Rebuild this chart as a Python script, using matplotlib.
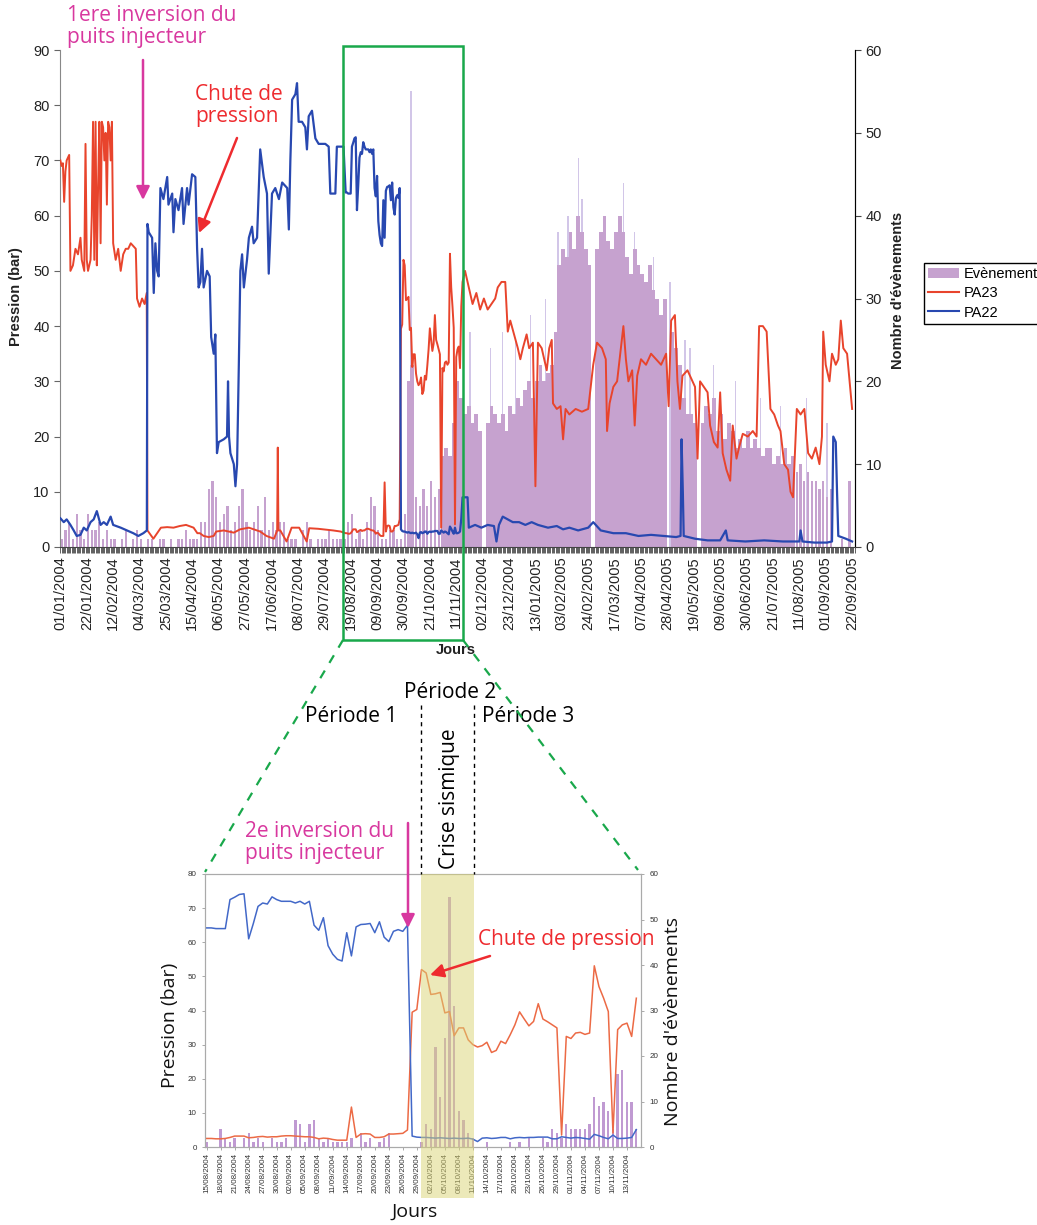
import matplotlib
matplotlib.use('Agg')
import matplotlib.pyplot as plt
import numpy as np
import pandas as pd
from matplotlib.patches import Rectangle, FancyArrowPatch, Patch
from matplotlib.lines import Line2D
from matplotlib.ticker import MultipleLocator

plt.rcParams['font.family'] = ['Liberation Sans', 'DejaVu Sans']

# ------------------------------------------------------------------ data
# --- top chart (day index from 01/01/2004)
top_start = '2004-01-01'
top_tick_step = 21
top_n_ticks = 31

pa23_early = [(0,70),(1,69),(2,69.5),(3,62.5),(4,68),(5,70),(7,71),(8,50),(10,51),(12,54),(14,53),
              (16,56),(17,52),(19,50),(20,73),(21,52),(22,50),(24,52),(25,60),(26,77),(27,52),(28,77),
              (29,51),(30,65),(31,77),(32,55),(33,77),(34,76),(35,70),(36,75),(37,62),(38,77),(39,76),
              (40,70),(41,77),(42,55),(44,52),(46,54),(48,50),(50,53),(52,54),(54,54),(56,55),(58,54.5),
              (60,54),(61,45),(63,43.5),(65,45),(67,44),(68.7,46),(69.3,3),(74,1.5),(80,3.5),(85,3.6),
              (90,3.5),(95,3.8),(100,4),(106,3.5),(109,2.5),(111,2.5),(114,2),(118,1.8),(122,2),
              (124,2.8),(130,3),(138,2.6),(143,3.2),(150,3.5),(159,2.8),(164,2),(170,1.5),(172.5,3),
              (173,18),(173.5,3),(175,3),(180,1),(184,3.5),(190,3.5),(196,1),(198,3.4),(205,3.3),
              (217,3),(223,2.8)]

pa22_early = [(0,5.2),(2.7,4.5),(5,5),(8,4),(10.6,3),(13,2),(16,2.2),(18.6,3.5),(21,3),(24,4.5),
              (26.5,5),(29,6.5),(32,4),(34.5,4.5),(37,4),(40,5.5),(42,4),(48,3.5),(53,3),(58,2.5),
              (62,2),(66,2.5),(68.8,3),(69.3,58.5),(70.3,57),(73,56),(74.3,46),(75.6,55),(77,50),
              (78.2,49),(79.6,65),(82,63),(85,67),(86,62),(89,64),(90,57),(91.5,63),(94,61),(96.8,65),
              (98,58.5),(100.8,65),(102,62),(104.8,67.5),(107.4,67),(108.8,54),(110,47),(111.4,48),
              (112.7,54),(114,47),(116.7,50),(118.8,49),(120,38),(122,35),(123.3,38.5),(124.6,17),
              (126,19),(130,19.5),(132.6,20),(133.4,30),(134.2,20),(135.3,17),(138,15),(139.3,11),
              (140.6,15),(142,33),(143.2,50),(144.6,53),(146,47),(148.5,52),(150,56),(152.5,58),
              (153.8,55),(156.5,56),(159,72),(161.8,67),(164.4,64),(165.8,49.5),(168.4,64),(171,65),
              (173.9,63),(176.5,66),(180.5,65),(181.8,57.5),(183,70),(184.4,81),(187,82),(188.3,84),
              (189.6,77),(192.3,77),(194.9,76),(196.2,72),(197.6,78),(200.2,79),(202.9,74),(205.5,73),
              (210.8,73),(213.5,72.5),(214.8,64),(218.8,64),(220,72.5),(225.3,72.5)]

pa23_late = [(320,48),(322,50),(325,47),(328,44),(331,46),(334,43),(337,45),(340,43),(343,44),(346,45),
             (348,47),(351,48),(354,48),(356,39),(358,41),(361,38.5),(364,36),(366,34),(368,36),
             (371,38.5),(373,36),(376,37),(378,11),(380,37),(383,36),(385,34),(387,32),(389,36),
             (391,37.5),(392,26),(395,25),(398,25.5),(400,19.5),(402,25),(405,24),(410,25),(415,24.5),
             (420,25),(424,33),(427,37),(431,36),(434,34),(435,21),(437,26),(440,29),(443,30),(446,36),
             (448,40),(450,34),(452,30),(455,32),(457,22),(459,31),(462,34),(466,33),(470,35),(474,34),
             (478,33),(482,35),(484,25.5),(486,41),(489,42),(491,30),(493,25),(495,31),(499,32),
             (503,30),(505,29),(507,16),(509,30),(512,29),(515,28),(517,22),(520,19),(523,18),(525,28),
             (527,17),(530,14),(533,12),(535,22),(538,16),(540,18),(543,20.5),(547,20),(551,21),
             (554,20),(556,40),(559,40),(562,39),(565,25),(568,24),(571,22),(573,21),(576,15),(579,14),
             (581,10),(583,9),(586,25),(589,24),(592,25),(595,17),(598,16),(601,18),(604,15),(606,20),
             (607,39),(609,33),(612,30),(614,35),(617,33),(619,34),(621,41),(623,36),(626,35),(628,30),
             (630,25)]

pa22_late = [(320,9),(324,9),(325,3.5),(330,4),(335,3.5),(340,4),(345,3.8),(347,1),(349,4),(352,5.5),
             (360,4.5),(365,4.5),(370,4),(375,4.5),(380,4),(388,3.5),(395,3.8),(400,3.2),(405,3.5),
             (412,3),(420,3.5),(424,4.5),(430,3),(440,2.5),(450,2.5),(460,2),(470,2.2),(480,2),
             (490,1.8),(493.5,2),(494.3,19.5),(495.3,10),(496,2),(505,1.5),(515,1.2),(525,1.2),
             (529.5,3),(531,1.2),(545,1),(560,1.2),(575,1),(588,1),(589,3),(590.5,1),(600,0.8),
             (610,0.8),(614,1),(615,20),(617,19),(618,10),(619,2),(625,1.5),(630,1)]

# events, top chart, 3-day bins starting 01/01/2004
events_top_3day = [1,2,3,1,4,2,1,4,2,2, 3,1,2,1,1,0,1,2,0,1, 2,1,0,1,1,0,1,1,0,1,
                   0,1,1,2,1,1,1,3,3,7, 8,6,3,4,5,2,3,5,7,3, 2,3,5,2,6,2,3,2,3,3,
                   1,1,1,0,2,3,1,0,1,1, 1,2,1,1,1,1,3,4,1,2, 1,3,6,5,2,1,1,2,2,1,
                   1,4,20,22,6,5,7,5,8,6, 7,11,12,11,15,20,18,16,17,15, 16,14,0,15,17,16,15,16,14,17,
                   16,18,17,19,20,18,20,22,20,21, 22,26,34,36,35,38,36,40,38,36, 34,0,36,38,40,37,36,38,40,38,
                   35,33,36,34,33,32,34,31,30,28, 30,0,26,24,22,18,16,16,15,0, 15,17,16,18,14,16,13,15,14,12,
                   13,12,14,12,13,12,11,12,12,10, 11,10,12,10,11,9,10,8,9,8, 8,7,8,6,7,0,0,1,0,8]
# single-day peaks above the binned level
event_peak_days = [279,326,342,352,362,374,386,396,404,412,415,434,448,457,472,485,497,501,520,537,557,573,594,610,629]
event_peak_vals = [55,26,24,26,25,28,30,38,40,47,42,40,44,38,35,32,25,24,22,20,18,17,18,15,8]

# --- bottom chart: daily values from 15/08/2004 (day 227 of the top chart)
zoom_start = '2004-08-15'
zoom_offset = 227
zoom_pa22 = [64.2,64.2,64,64,64,72.5,73.2,74,74.2,61,65.5,70.5,71.5,71.2,73.3,72.5,72,72,72,71.5,
             72,71.2,72,65,63.5,67.2,59,56.5,55,54.5,62.8,56,64.5,65.2,65.3,65.5,62.8,66,61.5,60.2,
             63.2,63.7,63.2,65,3.2,2.9,2.8,2.8,2.7,2.6,2.7,2.6,2.5,2.6,2.5,2.5,2.6,2.3,1.6,2.6,
             2.7,2.5,2.6,2.8,2.8,2.4,2.7,2.8,2.7,2.8,2.8,2.9,2.9,2.9,2.4,2.4,3.0,2.8,2.6,2.8,
             2.7,2.5,2.3,3.7,3.3,2.8,2.4,3.5,2.5,2.5,2.6,2.8,5.1]
zoom_pa23 = [2.5,2.5,2.4,2.4,2.5,2.8,3.2,3.2,3.2,2.7,2.8,3.0,3.1,2.9,3.0,3.0,3.2,3.3,3.3,3.2,
             3.1,3.0,3.0,2.8,2.4,2.6,2.5,2.2,2.0,2.0,2.0,11.7,2.8,3.8,3.9,3.8,2.8,2.8,3.0,3.8,
             3.8,3.9,4.0,5.0,39.5,40.3,52,51,44.7,44.9,45.3,39.3,39.7,32.6,34.9,34.9,31.4,30,29.3,29.7,
             30.7,27.7,28.3,31,30.3,32.9,35.8,39.6,37.5,35.5,36.8,42,37.5,36.7,35.8,34.9,3.5,32.4,31.8,33.4,
             33.6,33,33.4,53.1,47,43.6,39.7,4.1,34.4,35.8,36.3,32.4,43.6]
zoom_events = [1,0,0,4,2,1,2,0,2,3,1,2,1,0,2,1,1,2,0,6,5,1,5,6,2,1,2,1,1,1,
               1,2,0,3,1,2,0,1,2,3,0,0,0,0,0,0,1,5,4,22,11,24,55,31,8,6,3,2,0,0,
               1,0,0,0,0,1,0,1,0,2,0,0,2,1,4,3,2,5,4,4,4,4,5,11,9,10,8,4,16,17,10,10,4]
zoom_tick_step = 3
zoom_n_ticks = 31

# ------------------------------------------------------------------ style
W, H = 1037, 1225
PURPLE = '#c6a2cf'
LAVENDER = '#d2c6e8'
RED = '#e8442c'
BLUE = '#2848b0'
RED_B = '#ec6a45'
BLUE_B = '#4268c8'
MAGENTA = '#d8389f'
ANN_RED = '#ee2b2f'
GREEN = '#19a84b'
ANN = ['Open Sans', 'DejaVu Sans']

fig = plt.figure(figsize=(W / 100, H / 100), dpi=100)


def fx(x):
    return x / W


def fy(y):
    return 1 - y / H


# ------------------------------------------------------------------ top chart
ax = fig.add_axes([fx(60), fy(547), (855 - 60) / W, (547 - 50) / H])
ax2 = ax.twinx()
ax.set_zorder(ax2.get_zorder() + 1)
ax.patch.set_visible(False)

ev = np.array(events_top_3day)
bin_centers = np.arange(len(ev)) * 3 + 1
bar_w = np.where(ev < 10, 1.8, 3.0)   # sparse small bars look thin, dense ones merge
ax2.bar(event_peak_days, event_peak_vals, width=1.0, color=LAVENDER, linewidth=0, zorder=1)
ax2.bar(bin_centers, ev, width=bar_w, color=PURPLE, linewidth=0, zorder=2)

mid_days = [zoom_offset + i for i in range(len(zoom_pa23))]
d23 = [p[0] for p in pa23_early] + mid_days + [p[0] for p in pa23_late]
v23 = [p[1] for p in pa23_early] + zoom_pa23 + [p[1] for p in pa23_late]
d22 = [p[0] for p in pa22_early] + mid_days + [p[0] for p in pa22_late]
v22 = [p[1] for p in pa22_early] + zoom_pa22 + [p[1] for p in pa22_late]
ax.plot(d23, v23, color=RED, lw=1.4, zorder=3)
ax.plot(d22, v22, color=BLUE, lw=1.6, zorder=4)

ax.set_xlim(-0.3, 632.3)
ax.set_ylim(0, 90)
ax2.set_ylim(0, 60)
ax.set_yticks(range(0, 91, 10))
ax2.set_yticks(range(0, 61, 10))
top_ticks = np.arange(top_n_ticks) * top_tick_step
top_labels = pd.date_range(top_start, periods=top_n_ticks, freq=f'{top_tick_step}D').strftime('%d/%m/%Y')
ax.set_xticks(top_ticks)
ax.set_xticklabels(top_labels, rotation=90, fontsize=10.5, color='#222222')
ax.xaxis.set_minor_locator(MultipleLocator(1))
ax.tick_params(axis='x', which='both', length=4, width=0.6, color='#444444', pad=3)
ax.tick_params(axis='y', length=4, width=0.8, color='#666666', labelsize=10.5, labelcolor='#222222')
ax2.tick_params(axis='y', length=4, width=0.8, color='#444444', labelsize=10.5, labelcolor='#222222')
for a in (ax, ax2):
    a.spines['top'].set_visible(False)
ax.spines['left'].set_color('#888888')
ax.spines['bottom'].set_color('#444444')
ax2.spines['right'].set_color('#444444')
ax2.spines['left'].set_visible(False)
ax2.spines['bottom'].set_visible(False)

fig.text(fx(16), fy(297), 'Pression (bar)', rotation=90, ha='center', va='center',
         fontsize=10.5, fontweight='bold', color='#222222')
fig.text(fx(898), fy(290), "Nombre d'évènements", rotation=90, ha='center', va='center',
         fontsize=10.5, fontweight='bold', color='#222222')
fig.text(fx(456), fy(650), 'Jours', ha='center', va='center', fontsize=10.5,
         fontweight='bold', color='#222222')

handles = [Patch(facecolor=PURPLE, edgecolor='none', label='Evènement'),
           Line2D([], [], color=RED, lw=1.5, label='PA23'),
           Line2D([], [], color=BLUE, lw=1.5, label='PA22')]
fig.legend(handles=handles, loc='upper left', bbox_to_anchor=(fx(924), fy(263)),
           frameon=True, fancybox=False, edgecolor='black', framealpha=1,
           fontsize=10.5, borderpad=0.3, handlelength=2.1, handletextpad=0.3,
           labelspacing=0.35, borderaxespad=0)

# ------------------------------------------------------------------ bottom chart
bx = fig.add_axes([fx(205), fy(1147), (641 - 205) / W, (1147 - 874) / H])
bx2 = bx.twinx()
bx.set_zorder(bx2.get_zorder() + 1)
bx.patch.set_visible(False)
zx = np.arange(len(zoom_pa22))
bx2.bar(zx, zoom_events, width=0.5, color='#c09ad2', linewidth=0)
bx.plot(zx, zoom_pa23, color=RED_B, lw=1.1)
bx.plot(zx, zoom_pa22, color=BLUE_B, lw=1.1)
bx.set_xlim(-0.35, 93.0)
bx.set_ylim(0, 80)
bx2.set_ylim(0, 60)
bx.set_yticks(range(0, 81, 10))
bx2.set_yticks(range(0, 61, 10))
zt = np.arange(zoom_n_ticks) * zoom_tick_step
zl = pd.date_range(zoom_start, periods=zoom_n_ticks, freq=f'{zoom_tick_step}D').strftime('%d/%m/%Y')
bx.set_xticks(zt)
bx.set_xticklabels(zl, rotation=90, fontsize=5.8, color='#333333')
bx.tick_params(axis='x', length=2.5, width=0.5, color='#888888', pad=2)
bx.tick_params(axis='y', length=2.5, width=0.5, color='#888888', labelsize=5.8, labelcolor='#333333')
bx2.tick_params(axis='y', length=2.5, width=0.5, color='#888888', labelsize=5.8, labelcolor='#333333')
for a in (bx, bx2):
    for s in a.spines.values():
        s.set_color('#aaaaaa')
        s.set_linewidth(0.8)

fig.text(fx(170), fy(1025), 'Pression (bar)', rotation=90, ha='center', va='center',
         fontsize=14, family=ANN, color='#111111')
fig.text(fx(673), fy(1022), "Nombre d'évènements", rotation=90, ha='center', va='center',
         fontsize=14, family=ANN, color='#111111')
fig.text(fx(415), fy(1212), 'Jours', ha='center', va='center', fontsize=14, family=ANN,
         color='#111111')

# yellow "crise sismique" band (overlay)
fig.add_artist(Rectangle((fx(421), fy(1198)), (474 - 421) / W, (1198 - 874) / H,
                         transform=fig.transFigure, facecolor='#dbd575', alpha=0.5,
                         edgecolor='none', zorder=10))

# ------------------------------------------------------------------ annotations
def arrow(p0, p1, color, lw=1.8, ms=20):
    fig.add_artist(FancyArrowPatch((fx(p0[0]), fy(p0[1])), (fx(p1[0]), fy(p1[1])),
                                   transform=fig.transFigure, arrowstyle='-|>',
                                   mutation_scale=ms, color=color, lw=lw, zorder=20,
                                   shrinkA=0, shrinkB=0))


def line(xs, ys, **kw):
    fig.add_artist(Line2D([fx(v) for v in xs], [fy(v) for v in ys],
                          transform=fig.transFigure, zorder=15, **kw))


fig.text(fx(67), fy(5), '1ere inversion du\npuits injecteur', ha='left', va='top',
         fontsize=15, family=ANN, color=MAGENTA, linespacing=1.05)
arrow((143, 60), (143, 200), MAGENTA)
fig.text(fx(195), fy(84), 'Chute de\npression', ha='left', va='top', fontsize=15,
         family=ANN, color=ANN_RED, linespacing=1.05)
arrow((237, 138), (199, 233), ANN_RED)

fig.add_artist(Rectangle((fx(343), fy(640)), (463 - 343) / W, (640 - 46) / H,
                         transform=fig.transFigure, fill=False, edgecolor=GREEN, lw=1.8,
                         zorder=15))
line([343, 205], [640, 872], color=GREEN, lw=1.6, ls=(0, (4, 4)))
line([463, 638], [640, 870], color=GREEN, lw=1.6, ls=(0, (4, 4)))

fig.text(fx(450), fy(692), 'Période 2', ha='center', va='center', fontsize=15, family=ANN)
fig.text(fx(351), fy(716), 'Période 1', ha='center', va='center', fontsize=15, family=ANN)
fig.text(fx(528), fy(716), 'Période 3', ha='center', va='center', fontsize=15, family=ANN)
line([421, 421], [705, 874], color='black', lw=1.0, ls=(0, (3, 3)))
line([474, 474], [705, 874], color='black', lw=1.0, ls=(0, (3, 3)))
fig.text(fx(450), fy(799), 'Crise sismique', rotation=90, ha='center', va='center',
         fontsize=15, family=ANN)

fig.text(fx(245), fy(821), '2e inversion du\npuits injecteur', ha='left', va='top',
         fontsize=15, family=ANN, color=MAGENTA, linespacing=1.05)
arrow((408, 823), (408, 928), MAGENTA)
fig.text(fx(478), fy(940), 'Chute de pression', ha='left', va='center', fontsize=15,
         family=ANN, color=ANN_RED)
arrow((490, 956), (430, 975), ANN_RED)

fig.savefig('out.png', dpi=100)
